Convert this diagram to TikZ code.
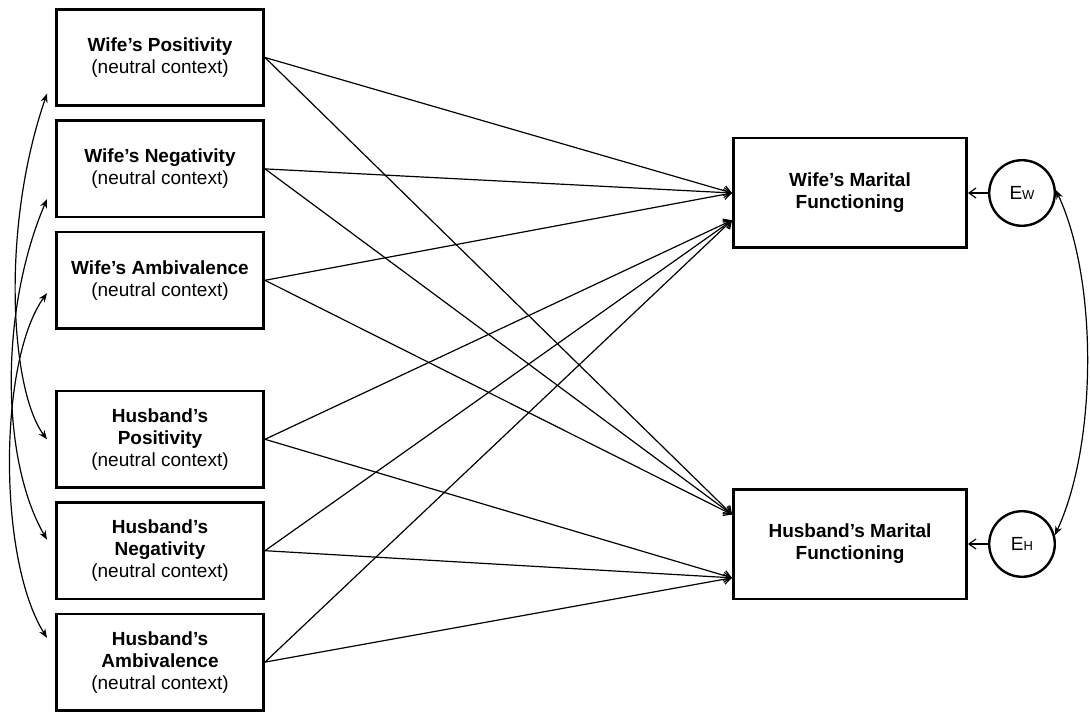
\documentclass[tikz,border=0pt]{standalone}
\usepackage{fontspec}
\setmainfont{Liberation Sans}
\usetikzlibrary{positioning,arrows.meta}

\begin{document}
\begin{tikzpicture}[node distance=55.7pt,
    var/.style={draw, line width=1.3pt, minimum width=103.7pt, minimum height=48.2pt,
        align=center, font=\fontsize{9.5}{11}\selectfont},
    outcome/.style={draw, line width=1.3pt, minimum width=116.7pt, minimum height=54.8pt,
        align=center, font=\fontsize{9.5}{11}\selectfont\bfseries},
    err/.style={draw, circle, line width=1.2pt, minimum size=32.8pt, inner sep=0pt,
        font=\fontsize{9.5}{11}\selectfont},
    effect/.style={-{Straight Barb[length=3.5pt,width=5pt]}, line width=0.6pt},
    corr/.style={{Stealth[length=4.5pt,width=3.5pt]}-{Stealth[length=4.5pt,width=3.5pt]}, line width=0.6pt}]
    \useasboundingbox (0,0) rectangle (545pt,-357.5pt);

    % Predictors (neutral context)
    \node (wpos) [var] at (80pt,-28.75pt) {\textbf{Wife’s Positivity}\\(neutral context)};
    \node (wneg) [var, below of=wpos] {\textbf{Wife’s Negativity}\\(neutral context)};
    \node (wamb) [var, below of=wneg] {\textbf{Wife’s Ambivalence}\\(neutral context)};
    \node (hpos) [var, below of=wamb, node distance=79.5pt] {\textbf{Husband’s}\\\textbf{Positivity}\\(neutral context)};
    \node (hneg) [var, below of=hpos] {\textbf{Husband’s}\\\textbf{Negativity}\\(neutral context)};
    \node (hamb) [var, below of=hneg] {\textbf{Husband’s}\\\textbf{Ambivalence}\\(neutral context)};

    % Outcomes and errors
    \node (wmf) [outcome] at (425pt,-96.5pt) {Wife’s Marital\\Functioning};
    \node (hmf) [outcome, below of=wmf, node distance=175.5pt] {Husband’s Marital\\Functioning};
    \node (ew) [err, right of=wmf, node distance=86pt] {E{\fontsize{6.5}{7}\selectfont W}};
    \node (eh) [err, right of=hmf, node distance=86pt] {E{\fontsize{6.5}{7}\selectfont H}};

    % Paths
    \foreach \p in {wpos, wneg, wamb} {
        \draw[effect] (\p.east) -- (wmf.west);
        \draw[effect] (\p.east) -- (hmf.166);
    }
    \foreach \p in {hpos, hneg, hamb} {
        \draw[effect] (\p.east) -- (wmf.193);
        \draw[effect] (\p.east) -- (hmf.196);
    }
    \draw[effect] (ew) -- (wmf);
    \draw[effect] (eh) -- (hmf);

    % Covariances
    \draw[corr] ([xshift=-4pt]wpos.199) .. controls +(-109:72pt) and +(127:30pt) .. ([xshift=-4pt]hpos.180);
    \draw[corr] ([xshift=-4pt]wneg.196) .. controls +(-113:61pt) and +(120:46pt) .. ([xshift=-4pt]hneg.174);
    \draw[corr] ([xshift=-4pt]wamb.187) .. controls +(-126:41pt) and +(122:47pt) .. ([xshift=-4pt]hamb.167);
    \draw[corr] (ew.5) .. controls +(-65:50pt) and +(65:50pt) .. (eh.15);
\end{tikzpicture}
\end{document}
